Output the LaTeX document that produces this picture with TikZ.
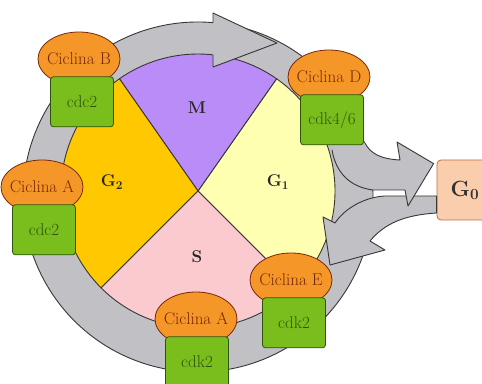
\documentclass[tikz,border=0pt]{standalone}
\usepackage{fontspec}
\usepackage{tikz}
\usetikzlibrary{positioning,shapes.geometric}
\definecolor{grisanillo}{RGB}{192,192,197}
\definecolor{bordeoscuro}{RGB}{55,55,55}
\definecolor{lilaM}{RGB}{186,140,248}
\definecolor{oroG}{RGB}{255,200,0}
\definecolor{cremaG}{RGB}{255,255,178}
\definecolor{rosaS}{RGB}{250,202,206}
\definecolor{naranja}{RGB}{245,150,40}
\definecolor{marron}{RGB}{120,40,10}
\definecolor{verdecdk}{RGB}{122,190,30}
\definecolor{verdeosc}{RGB}{45,85,10}
\definecolor{melocoton}{RGB}{250,206,172}
\definecolor{bordemelo}{RGB}{185,110,60}
\newcommand{\sinancho}[1]{\makebox[0pt]{#1}}

\begin{document}
\begin{tikzpicture}[x=1pt, y=1pt,
  fase/.style={draw=bordeoscuro, line width=0.9pt},
  etiqueta/.style={font=\fontsize{17}{17}\selectfont\bfseries, text=black!85},
  anillo/.style={fill=grisanillo},
  borde/.style={draw=bordeoscuro, line width=0.9pt, line join=round},
  ciclina/.style={ellipse, draw=marron, fill=naranja, line width=0.8pt, minimum width=82pt, minimum height=54pt, inner sep=0pt, font=\fontsize{17}{17}\selectfont, text=marron},
  cdk/.style={rectangle, rounded corners=3pt, draw=verdeosc, fill=verdecdk, line width=0.8pt, minimum width=63pt, minimum height=50pt, font=\fontsize{17}{17}\selectfont, text=verdeosc},
  reposo/.style={rectangle, rounded corners=4pt, draw=bordemelo, fill=melocoton, line width=0.8pt, minimum width=66pt, minimum height=60pt, font=\fontsize{22}{22}\selectfont\bfseries, text=black!80}
]
  \useasboundingbox (0,0) rectangle (482,383);
  \clip (0,0) rectangle (482,383);
  \coordinate (centro) at (198,192);
  \coordinate (centroanillo) at (198,186);

  \fill[anillo] ([shift={(77:175)}]centroanillo) arc[start angle=77, end angle=-277, radius=175]
    -- ([shift={(-277.5:137)}]centro) arc[start angle=-277.5, end angle=77, radius=137] -- cycle;
  \draw[borde] ([shift={(77:175)}]centroanillo) arc[start angle=77, end angle=-277, radius=175];

  \foreach \ini/\fin/\col in {-45/55/cremaG, 55/125/lilaM, 125/225/oroG, 225/315/rosaS}
    \draw[fase, fill=\col] (centro) -- ++(\ini:137) arc[start angle=\ini, end angle=\fin, radius=137] -- cycle;

  \node[etiqueta] (faseM) at (197,275) {M};
  \node[etiqueta] (faseG1) at (278,201) {G\textsubscript{1}};
  \node[etiqueta] (faseG2) at (112,201) {G\textsubscript{2}};
  \node[etiqueta] (faseS) at (197,126) {S};

  % punta del anillo
  \fill[anillo] (213,370) -- (277,340) -- (213,316) -- cycle;
  \draw[borde] (213,360.4) -- (213,370) -- (277,340) -- (213,316) -- (213,328.2);

  \node[reposo] (quiescente) at (470,193) {\hspace*{-10pt}G\textsubscript{0}};

  \filldraw[anillo, borde] ([yshift=-6pt]quiescente.west) -- (385,187)
    .. controls (365,186) and (345,175) .. (335,160) -- (323,166) -- (330,118)
    -- (385,133) -- (370,142) .. controls (385,160) and (405,168) .. ([yshift=-23pt]quiescente.west) -- cycle;
  \filldraw[anillo, borde] (332,233) .. controls (336,210) and (350,196) .. (373,193)
    -- (405,193) -- (408,177) -- ([shift={(-3pt,-4pt)}]quiescente.north west) -- (397,241) -- (400,223)
    .. controls (380,224) and (370,230) .. (365,240);

  \node[ciclina] (cicB) at (79,324) {\sinancho{Ciclina B}};
  \node[cdk, below=-10pt of cicB, xshift=3pt] (cdkB) {cdc2};
  \node[ciclina] (cicD) at (329,306) {\sinancho{Ciclina D}};
  \node[cdk, below=-10pt of cicD, xshift=3pt] (cdkD) {cdk4/6};
  \node[ciclina] (cicAizq) at (42,196) {\sinancho{Ciclina A}};
  \node[cdk, below=-10pt of cicAizq, xshift=2pt] (cdkAizq) {cdc2};
  \node[ciclina] (cicAbajo) at (196,64) {\sinancho{Ciclina A}};
  \node[cdk, below=-10pt of cicAbajo, xshift=1pt] (cdkAbajo) {cdk2};
  \node[ciclina] (cicE) at (291,103) {\sinancho{Ciclina E}};
  \node[cdk, below=-10pt of cicE, xshift=3pt] (cdkE) {cdk2};
\end{tikzpicture}
\end{document}
